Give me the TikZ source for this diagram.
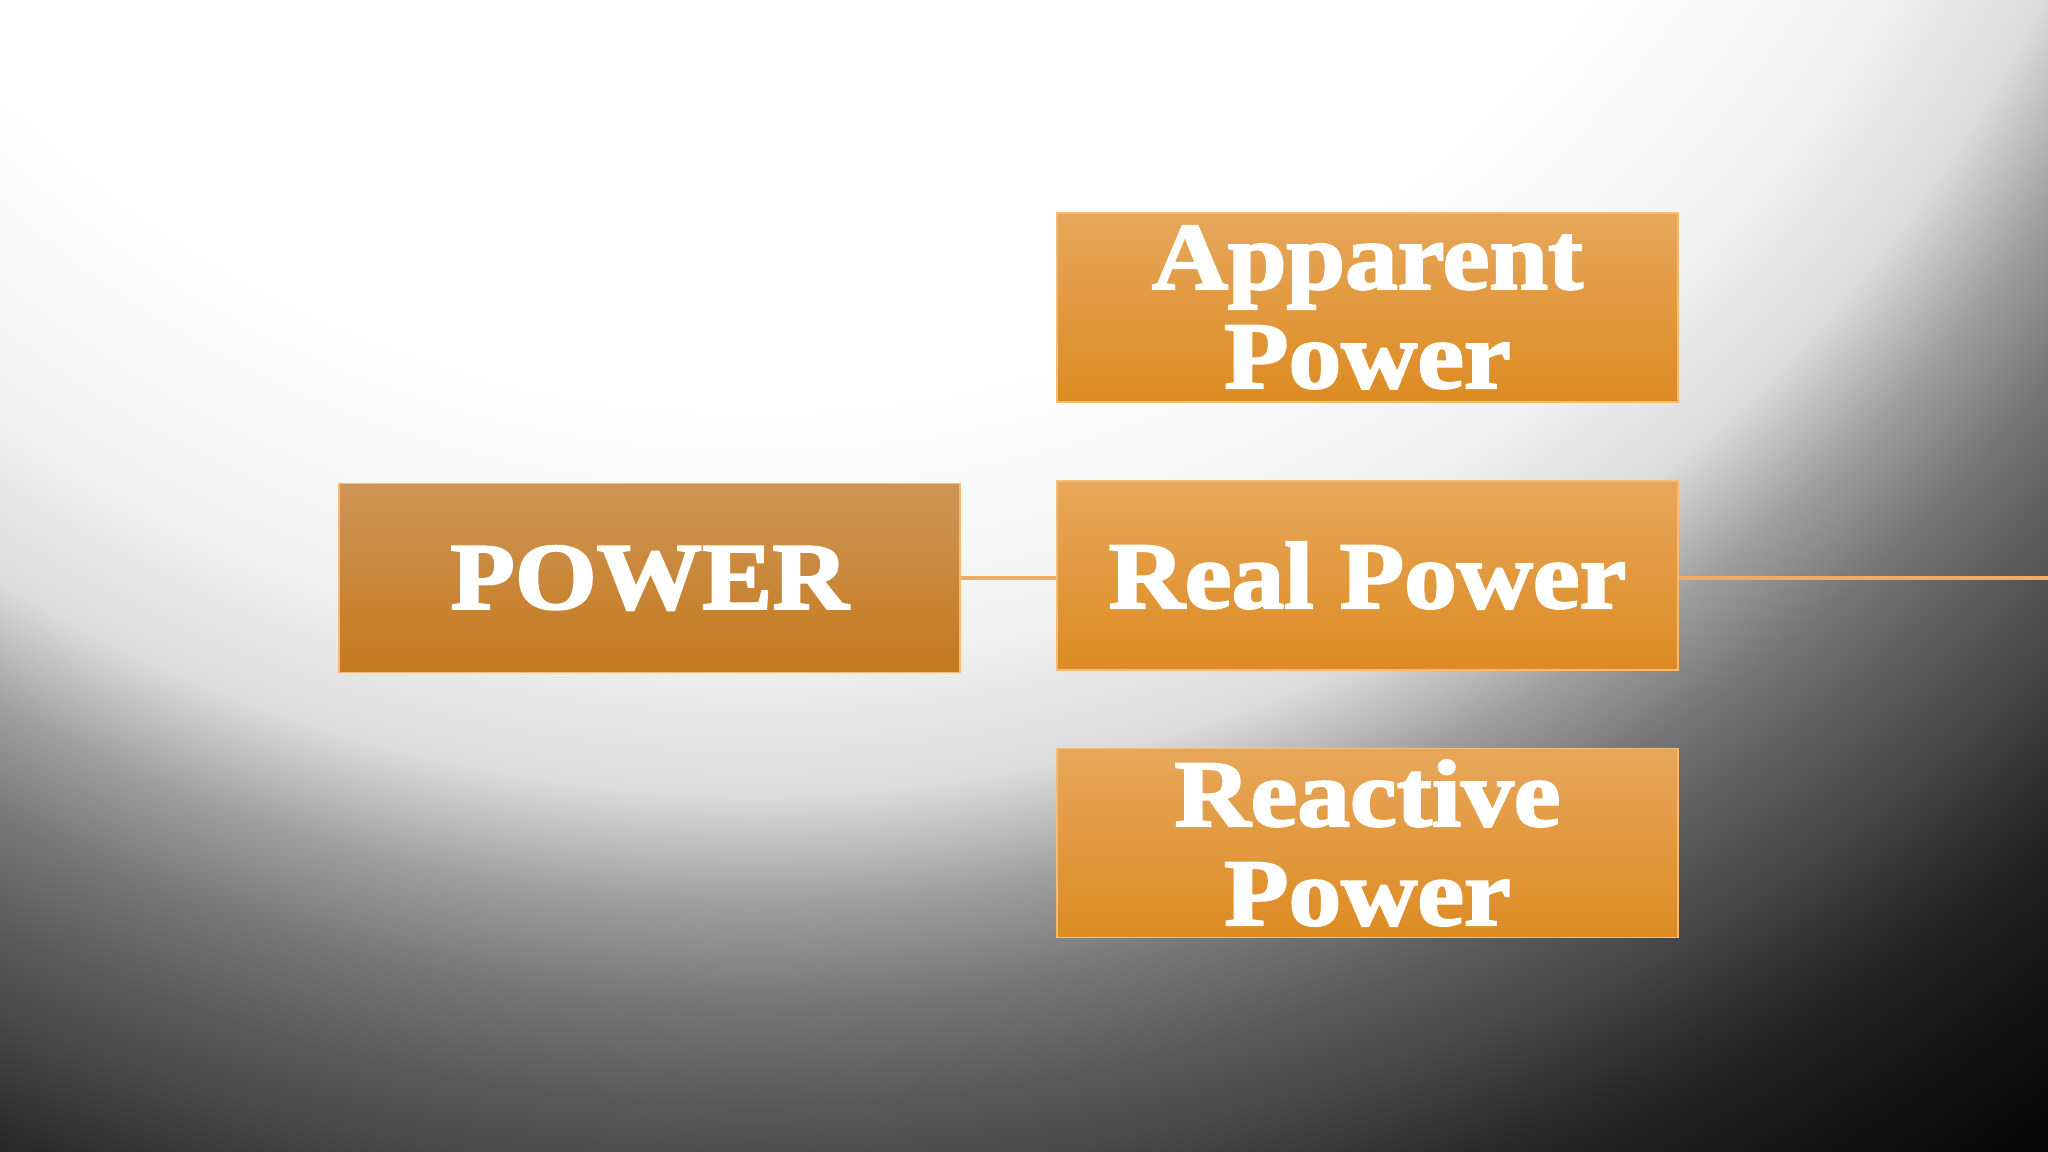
\documentclass[tikz,border=0pt]{standalone}
\usepackage{fontspec}
\setmainfont{Liberation Serif}[BoldFont={* Bold}]
\newfontfamily\boxfont{Liberation Serif Bold}[FakeStretch=1.11,FakeBold=2.4]
\definecolor{pwtop}{HTML}{CF9556}
\definecolor{pwbot}{HTML}{C47A1E}
\definecolor{subtop}{HTML}{E7A75B}
\definecolor{subbot}{HTML}{DD8B22}
\definecolor{edgeor}{HTML}{F2BC78}
\definecolor{lineor}{HTML}{EBAE62}
\pgfdeclareradialshading{bgshade}{\pgfpoint{0bp}{0bp}}{%
  color(0bp)=(white); color(10.5bp)=(white); color(12.9bp)=(black!5);
  color(14.4bp)=(black!14); color(15.5bp)=(black!38); color(16.5bp)=(black!54);
  color(17.5bp)=(black!65); color(18.2bp)=(black!71); color(19.4bp)=(black!84);
  color(20.5bp)=(black!91); color(22.1bp)=(black!98); color(23bp)=(black);
  color(50bp)=(black)}
\tikzset{
  boxbase/.style={draw=edgeor, line width=0.5pt, minimum width=6.21cm, minimum height=1.89cm,
    inner sep=0pt, text=white, align=center,
    font=\boxfont\fontsize{27}{28.2}\selectfont},
  mainbox/.style={boxbase, top color=pwtop, bottom color=pwbot},
  subbox/.style={boxbase, top color=subtop, bottom color=subbot},
  link/.style={draw=lineor, line width=1pt}
}
\begin{document}
\begin{tikzpicture}
\useasboundingbox (0,0) rectangle (20.48,11.52);
\begin{scope}
  \clip (0,0) rectangle (20.48,11.52);
  \fill[black] (0,0) rectangle (20.48,11.52);
  \shade[shading=bgshade] (7.55,17.97) circle (25cm);
\end{scope}
\node[mainbox] (power) at (6.495,5.74) {POWER};
\node[subbox] (apparent) at (13.675,8.445) {Apparent\\Power};
\node[subbox] (real) at (13.675,5.765) {Real Power};
\node[subbox] (reactive) at (13.675,3.09) {Reactive\\Power};
\coordinate (rightend) at (20.48,5.74);
\draw[link] (power.east) -- (power.east -| real.west);
\draw[link] (real.east |- rightend) -- (rightend);
\end{tikzpicture}
\end{document}
